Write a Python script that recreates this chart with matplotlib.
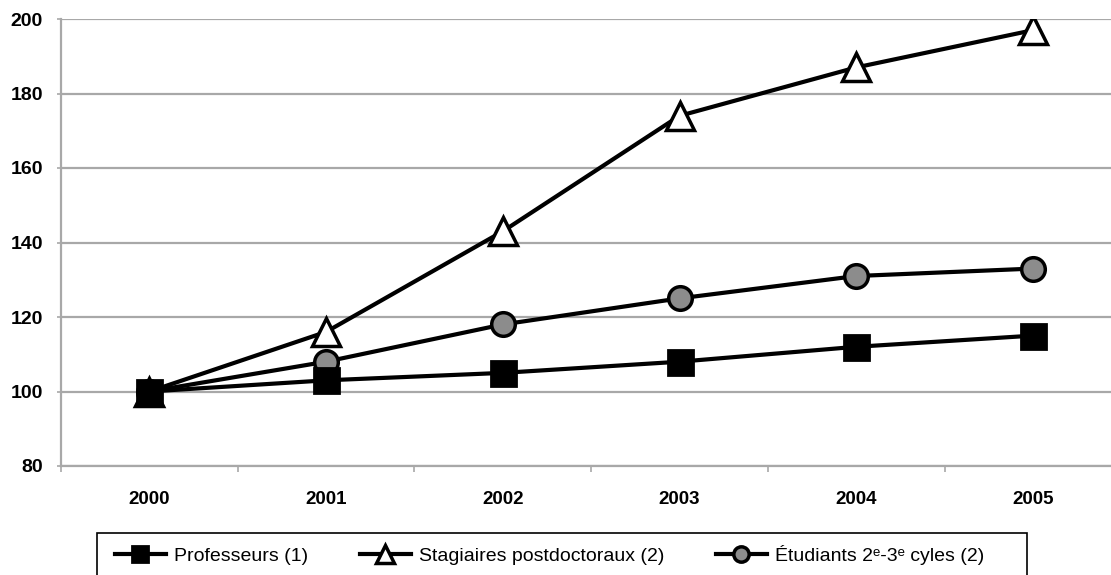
import matplotlib.pyplot as plt
from matplotlib.patches import Rectangle
from matplotlib.ticker import FixedLocator

years = ['2000', '2001', '2002', '2003', '2004', '2005']
professeurs = [100, 103, 105, 108, 112, 115]
stagiaires = [100, 116, 143, 174, 187, 197]
etudiants = [100, 108, 118, 125, 131, 133]

plt.rcParams['font.family'] = ['Liberation Sans', 'DejaVu Sans']

W, H = 1111, 575
fig = plt.figure(figsize=(W / 100, H / 100), dpi=100)
ax = fig.add_axes([61 / W, 1 - 466 / H, 1 - 61 / W, 447 / H])

x = range(len(years))
grid_c = '#a8a8a8'

ax.plot(x, stagiaires, color='black', lw=3, marker='^', ms=20,
        mfc='white', mec='black', mew=2.5, label='Stagiaires postdoctoraux (2)', zorder=3)
ax.plot(x, etudiants, color='black', lw=3, marker='o', ms=17,
        mfc='#8c8c8c', mec='black', mew=2.5, label='Étudiants 2ᵉ-3ᵉ cyles (2)', zorder=4)
ax.plot(x, professeurs, color='black', lw=3, marker='s', ms=18,
        mfc='black', mec='black', mew=2, label='Professeurs (1)', zorder=5)

ax.set_ylim(80, 200)
ax.set_yticks(range(80, 201, 20))
ax.set_xlim(-0.5, (W - 150) / 176.6)
ax.set_xticks(list(x))
ax.set_xticklabels(years)
ax.xaxis.set_minor_locator(FixedLocator([i + 0.5 for i in range(-1, 6)]))

ax.grid(axis='y', color=grid_c, lw=1.6, zorder=0)
ax.set_axisbelow(True)
for s in ['top', 'right']:
    ax.spines[s].set_visible(False)
for s in ['left', 'bottom']:
    ax.spines[s].set_color(grid_c)
    ax.spines[s].set_linewidth(1.6)

ax.tick_params(axis='y', length=3, width=1.2, color=grid_c, pad=10,
               labelsize=14)
ax.tick_params(axis='x', which='major', length=0, pad=18, labelsize=13.5)
ax.tick_params(axis='x', which='minor', length=4, width=1.2, color=grid_c)
for lbl in ax.get_xticklabels() + ax.get_yticklabels():
    lbl.set_fontweight('bold')

# legend in the original series order, frame drawn separately
handles, labels = ax.get_legend_handles_labels()
order = [2, 0, 1]
leg = fig.legend([handles[i] for i in order], [labels[i] for i in order],
                 loc='center left', bbox_to_anchor=(115 / W, 1 - 555 / H),
                 ncol=3, fontsize=14, frameon=False, markerscale=0.65,
                 handlelength=2.6, handletextpad=0.45, columnspacing=2.65,
                 borderpad=0, borderaxespad=0)
fig.patches.append(Rectangle((97 / W, -0.05), 930 / W, 0.05 + 1 - 533 / H,
                             transform=fig.transFigure, fill=False,
                             edgecolor='black', lw=1.2))

fig.savefig('out.png', dpi=100)
